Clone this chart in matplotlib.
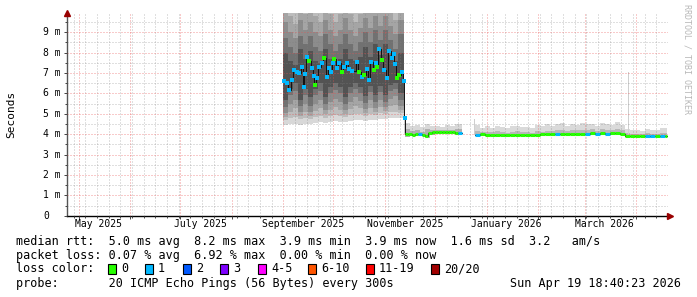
import matplotlib
matplotlib.use("Agg")
import matplotlib.pyplot as plt
import matplotlib.dates as mdates
from matplotlib.patches import Rectangle
from matplotlib.transforms import blended_transform_factory
from datetime import datetime
import numpy as np

plt.rcParams["lines.scale_dashes"] = False

# ----------------------------------------------------------------------
# data (times are days counted from 1 Sep 2025, values in ms)
# ----------------------------------------------------------------------
DAY0 = datetime(2025, 9, 1)
x_start = datetime(2025, 4, 24)
x_end = datetime(2026, 4, 20)

# segment 1: Sep - mid Nov 2025, median rtt and lost pings per sample
seg1_days = [0, 1.5, 2.7, 4.5, 5.7, 7.5, 8.7, 10.5, 11.7, 12.3, 13.5, 14.7, 16.5, 17.7,
             18.3, 19.5, 20.7, 22.5, 23.7, 25.6, 26.8, 28, 29.2, 29.8, 31.6, 32.8, 34.6,
             35.8, 37.3, 38.8, 40.6, 43.6, 44.8, 46.6, 47.8, 49.6, 50.8, 52, 53.8, 55,
             55.6, 56.8, 58.6, 59.8, 61.6, 62.8, 64.6, 65.8, 66.4, 67.6, 68.9, 70.7, 71.9, 72.5]
seg1_median = [6.6, 6.5, 6.17, 6.66, 7.15, 7.07, 7.02, 7.28, 6.33, 6.94, 7.77, 7.57, 7.23, 6.85,
               6.41, 6.76, 7.31, 7.5, 7.72, 6.79, 7.23, 7.07, 7.5, 7.67, 7.23, 7.48, 7.07,
               7.31, 7.48, 7.18, 7.12, 7.56, 7.07, 6.82, 6.9, 7.18, 6.66, 7.56, 7.15, 7.48,
               7.28, 8.18, 7.64, 7.15, 6.74, 8.1, 7.72, 7.93, 7.44, 6.74, 6.89, 7.07, 6.62, 4.8]
seg1_loss = [1, 1, 1, 1, 1, 1, 1, 1, 1, 1, 1, 0, 1, 1,
             0, 1, 1, 1, 0, 1, 1, 1, 1, 0, 1, 1, 0,
             1, 1, 1, 1, 1, 0, 1, 0, 1, 1, 1, 0, 1,
             0, 1, 0, 1, 1, 1, 1, 1, 1, 0, 0, 1, 1, 1]

# segment 1 smoke, per 3-day chunk, outer band (b1) -> inner band (b6)
seg1_chunks = [0, 3, 6, 9, 12, 15, 18, 21, 24, 27, 30, 33, 36, 39, 42, 45, 48, 51, 54, 57,
               60, 63, 66, 69, 72.5]
s1_b1_lo = [4.45, 4.5, 4.5, 4.45, 4.5, 4.5, 4.55, 4.6, 4.55, 4.6, 4.65, 4.6, 4.6, 4.65, 4.7,
            4.7, 4.65, 4.7, 4.7, 4.75, 4.75, 4.8, 4.8, 4.8]
s1_b2_lo = [4.7, 4.8, 4.85, 4.75, 4.8, 4.75, 4.85, 4.9, 4.8, 4.9, 4.95, 4.9, 4.85, 4.95, 5.0,
            5.0, 4.9, 5.0, 4.95, 5.05, 5.0, 5.1, 5.1, 5.05]
s1_b3_lo = [4.85, 5.1, 5.3, 4.9, 5.1, 4.9, 5.15, 5.3, 5.0, 5.2, 5.35, 5.2, 5.0, 5.25, 5.4,
            5.3, 5.05, 5.3, 5.1, 5.35, 5.15, 5.4, 5.45, 5.2]
s1_b3_hi = [10.4, 9.8, 9.4, 10.5, 9.9, 10.3, 9.8, 9.5, 10.5, 9.9, 9.5, 9.9, 10.5, 9.9, 9.5,
            9.9, 10.5, 10.0, 10.6, 10.0, 10.6, 10.0, 9.6, 10.4]
s1_b4_lo = [5.05, 5.5, 5.7, 5.1, 5.5, 5.1, 5.5, 5.7, 5.2, 5.6, 5.75, 5.6, 5.2, 5.6, 5.8,
            5.65, 5.25, 5.7, 5.3, 5.7, 5.35, 5.75, 5.85, 5.4]
s1_b4_hi = [9.5, 9.0, 8.7, 9.6, 9.1, 9.5, 9.0, 8.8, 9.6, 9.1, 8.8, 9.1, 9.7, 9.1, 8.8,
            9.2, 9.7, 9.2, 9.8, 9.3, 9.8, 9.3, 8.9, 9.6]
s1_b5_lo = [5.35, 5.9, 6.1, 5.4, 5.9, 5.4, 5.9, 6.1, 5.5, 6.0, 6.15, 6.0, 5.5, 6.0, 6.2,
            6.0, 5.55, 6.05, 5.6, 6.05, 5.6, 6.1, 6.2, 5.7]
s1_b5_hi = [8.7, 8.3, 8.0, 8.8, 8.4, 8.8, 8.3, 8.1, 8.9, 8.4, 8.1, 8.4, 8.9, 8.4, 8.1,
            8.5, 9.0, 8.5, 9.1, 8.6, 9.1, 8.6, 8.2, 8.9]
s1_b6_lo = [5.7, 6.2, 6.5, 5.7, 6.2, 5.8, 6.2, 6.5, 5.8, 6.3, 6.5, 6.3, 5.8, 6.3, 6.5,
            6.3, 5.85, 6.35, 5.9, 6.35, 5.9, 6.4, 6.5, 6.0]
s1_b6_hi = [8.0, 7.6, 7.4, 8.2, 7.7, 8.1, 7.6, 7.5, 8.2, 7.7, 7.6, 7.7, 8.2, 7.7, 7.6,
            7.8, 8.3, 7.8, 8.4, 7.9, 8.4, 7.9, 7.6, 8.0]
s1_top = 11.0

# segment 2: mid Nov - mid Dec 2025
seg2_days = [73, 75, 77, 79, 81, 83, 85, 87, 89, 91, 93, 95, 97, 99, 101, 103, 105]
seg2_end = 107
seg2_median = [4.0, 3.99, 3.98, 4.0, 4.02, 3.95, 3.9, 4.05, 4.1, 4.1, 4.12, 4.1, 4.11, 4.12, 4.1, 4.08, 4.05]
seg2_loss = [0, 0, 0, 0, 1, 0, 0, 0, 0, 0, 0, 0, 0, 0, 0, 0, 1]
seg2_chunks = [73, 76, 79, 82, 85, 88, 91, 94, 97, 100, 103, 107]
s2_outer_hi = [4.55, 4.4, 4.45, 4.35, 4.5, 4.4, 4.42, 4.35, 4.45, 4.4, 4.5]
s2_inner_hi = [4.25, 4.15, 4.2, 4.12, 4.25, 4.2, 4.22, 4.2, 4.22, 4.2, 4.25]
s2_lo = [3.88, 3.9, 3.92, 3.9, 3.82, 3.98, 4.0, 4.02, 4.02, 4.0, 3.98]

# segment 3: end Dec 2025 - Apr 2026
seg3_days = [115, 118, 121, 124, 127, 130, 133, 136, 139, 142, 145, 148, 151, 154, 157, 160,
             163, 166, 169, 172, 175, 178, 181, 184, 187, 190, 193, 196, 199, 202, 205, 208,
             211, 214, 217, 220, 223, 226, 229]
seg3_end = 230.5
seg3_median = [3.98, 4.0, 3.98, 3.97, 3.96, 3.97, 3.95, 3.97, 3.96, 3.98, 3.97, 3.96, 3.98, 3.99,
               4.0, 4.0, 4.02, 4.0, 4.01, 4.03, 4.02, 4.03, 4.02, 4.04, 4.02, 4.05, 4.03, 4.05,
               4.04, 4.02, 3.93, 3.9, 3.9, 3.91, 3.9, 3.89, 3.9, 3.89, 3.91]
seg3_loss = [1, 0, 0, 0, 0, 0, 0, 0, 0, 0, 0, 0, 0, 0, 0, 0, 1, 0, 0, 0, 0, 0, 1, 0, 1, 0,
             1, 0, 0, 0, 0, 0, 0, 0, 1, 1, 0, 1, 0]
seg3_chunks = [115, 118, 121, 124, 127, 130, 133, 136, 139, 142, 145, 148, 151, 154, 157, 160,
               163, 166, 169, 172, 175, 178, 181, 184, 187, 190, 193, 196, 199, 202, 205, 208,
               211, 214, 217, 220, 223, 226, 229, 230.5]
s3_outer_hi = [4.45, 4.3, 4.38, 4.32, 4.4, 4.35, 4.28, 4.38, 4.42, 4.33, 4.35, 4.3, 4.45, 4.38,
               4.5, 4.4, 4.48, 4.55, 4.42, 4.5, 4.45, 4.55, 4.48, 4.5, 4.42, 4.55, 4.5, 4.45,
               4.58, 4.45, 4.25, 4.2, 4.22, 4.18, 4.25, 4.2, 4.22, 4.28, 4.3]
s3_inner_hi = [4.15, 4.1, 4.12, 4.1, 4.14, 4.1, 4.08, 4.12, 4.15, 4.1, 4.12, 4.08, 4.15, 4.12,
               4.18, 4.15, 4.2, 4.22, 4.18, 4.2, 4.2, 4.22, 4.2, 4.25, 4.18, 4.25, 4.2, 4.2,
               4.25, 4.2, 4.05, 4.0, 4.02, 4.0, 4.05, 4.02, 4.02, 4.05, 4.08]
s3_lo = [3.9, 3.92, 3.9, 3.88, 3.88, 3.9, 3.87, 3.9, 3.9, 3.92, 3.9, 3.9, 3.92, 3.93,
         3.94, 3.93, 3.95, 3.94, 3.95, 3.96, 3.96, 3.97, 3.96, 3.97, 3.95, 3.97, 3.96, 3.97,
         3.97, 3.95, 3.86, 3.84, 3.84, 3.85, 3.84, 3.83, 3.84, 3.83, 3.85]

# single tall smoke columns
spike_days = [72.2, 114.5, 207]
spike_lo = [4.0, 3.95, 3.95]
spike_hi = [4.85, 4.75, 7.05]

loss_colors = ["#26ff00", "#00b8ff", "#0059ff", "#7e00ff", "#ff00ff", "#ff5500", "#ff0000", "#a10000"]
loss_labels = ["0", "1", "2", "3", "4-5", "6-10", "11-19", "20/20"]

month_labels = ["May 2025", "July 2025", "September 2025", "November 2025", "January 2026", "March 2026"]
month_label_dates = [datetime(2025, 5, 13), datetime(2025, 7, 13), datetime(2025, 9, 13),
                     datetime(2025, 11, 13), datetime(2026, 1, 13), datetime(2026, 3, 13)]

# ----------------------------------------------------------------------
# figure
# ----------------------------------------------------------------------
W, H = 697, 297
MONO = "DejaVu Sans Mono"
fig = plt.figure(figsize=(W / 100, H / 100), dpi=100, facecolor="white")


def fx(px):
    return px / W


def fy(py):
    return 1 - py / H


ax = fig.add_axes([fx(67), fy(215.7), fx(668) - fx(67), fy(12.9) - fy(215.7)])
ax.set_facecolor("white")

d0 = mdates.date2num(DAY0)


def band(edges, lo, hi, color):
    # one filled band per chunk, drawn as steps
    x = np.array(edges, float) + d0
    n = len(edges) - 1
    lo = np.array(lo, float) * np.ones(n)
    hi = np.array(hi, float) * np.ones(n)
    lo = np.append(lo, lo[-1])
    hi = np.append(hi, hi[-1])
    ax.fill_between(x, lo, hi, step="post", color=color, lw=0, zorder=1)


# smoke segment 1
band(seg1_chunks, s1_b1_lo, s1_top, "#d8d8d8")
band(seg1_chunks, s1_b2_lo, s1_top, "#bdbdbd")
band(seg1_chunks, s1_b3_lo, s1_b3_hi, "#a5a5a5")
band(seg1_chunks, s1_b4_lo, s1_b4_hi, "#8c8c8c")
band(seg1_chunks, s1_b5_lo, s1_b5_hi, "#717171")
band(seg1_chunks, s1_b6_lo, s1_b6_hi, "#535353")

# smoke segments 2 and 3
band(seg2_chunks, s2_lo, s2_outer_hi, "#d8d8d8")
band(seg2_chunks, s2_lo, s2_inner_hi, "#b0b0b0")
band(seg3_chunks, s3_lo, s3_outer_hi, "#dadada")
band(seg3_chunks, s3_lo, s3_inner_hi, "#b8b8b8")
for sd, lo, hi in zip(spike_days, spike_lo, spike_hi):
    ax.fill_between([sd + d0, sd + 0.8 + d0], lo, hi, color="#cfcfcf", lw=0, zorder=1)

# median: thin dark connection line, then loss coloured pieces
d12 = np.array(seg1_days + seg2_days + [seg2_end], float) + d0
m12 = seg1_median + seg2_median + [seg2_median[-1]]
ax.step(d12, m12, where="post", color="#111111", lw=0.7, zorder=3)
d3 = np.array(seg3_days + [seg3_end], float) + d0
ax.step(d3, seg3_median + [seg3_median[-1]], where="post", color="#111111", lw=0.7, zorder=3)

for d, m, l in zip(seg1_days, seg1_median, seg1_loss):
    ax.plot(d + d0 + 0.6, m, "s", ms=2.3, mew=0, color=loss_colors[l], zorder=4)

for days, end, med, loss in [(seg2_days, seg2_end, seg2_median, seg2_loss),
                             (seg3_days, seg3_end, seg3_median, seg3_loss)]:
    ends = days[1:] + [end]
    for a, b, m, l in zip(days, ends, med, loss):
        ax.hlines(m, a + d0, b + d0, colors=loss_colors[l], lw=2.2, zorder=4)

# axes, grid (1 px on / 1 px off dots)
ax.set_xlim(mdates.date2num(x_start), mdates.date2num(x_end))
ax.set_ylim(0, 9.95)
ax.xaxis.set_major_locator(mdates.MonthLocator())
ax.xaxis.set_minor_locator(mdates.WeekdayLocator(byweekday=mdates.MO))
ax.yaxis.set_major_locator(plt.MultipleLocator(1))
ax.yaxis.set_minor_locator(plt.MultipleLocator(0.5))
ax.set_xticklabels([])
ax.set_yticklabels([])
dots = (0, (0.72, 1.44))
ax.grid(which="minor", color="#808080", alpha=0.5, lw=0.72, ls=dots)
ax.grid(which="major", color="#e95050", alpha=0.6, lw=0.72, ls=dots)
ax.set_axisbelow(False)
ax.tick_params(which="both", direction="out", color="#444444", width=0.7)
ax.tick_params(which="major", length=2.5)
ax.tick_params(which="minor", length=1.5)
for s in ["top", "right"]:
    ax.spines[s].set_visible(False)
ax.spines["left"].set_color("#555555")
ax.spines["bottom"].set_color("#000000")
ax.spines["left"].set_linewidth(1.0)
ax.spines["bottom"].set_linewidth(1.0)

# axis arrows
ax.plot([0], [1.0], marker="^", ms=4, color="#990000", transform=ax.transAxes, clip_on=False, zorder=6)
ax.plot([1.004], [0], marker=">", ms=4, color="#990000", transform=ax.transAxes, clip_on=False, zorder=6)

# tick labels
xt = blended_transform_factory(ax.transData, fig.transFigure)
for lab, dt in zip(month_labels, month_label_dates):
    ax.text(mdates.date2num(dt), fy(224), lab, transform=xt, ha="center", va="center",
            family=MONO, fontsize=7, color="#000000")
yt = blended_transform_factory(fig.transFigure, ax.transData)
for v in range(10):
    lab = "0" if v == 0 else "%d m" % v
    ax.text(fx(43), v, lab, transform=yt, ha="left", va="center", family=MONO, fontsize=7,
            color="#000000")

fig.text(fx(11), fy(114), "Seconds", rotation=90, ha="center", va="center", family=MONO,
         fontsize=8, color="#000000")
fig.text(fx(687), fy(4), "RRDTOOL / TOBI OETIKER", rotation=270, ha="center", va="top",
         family=MONO, fontsize=6, color="#b8b8b8")

# legend block
fs = 8.5
fig.text(fx(16), fy(241), "median rtt:  5.0 ms avg  8.2 ms max  3.9 ms min  3.9 ms now  1.6 ms sd  3.2   am/s",
         family=MONO, fontsize=fs, va="center", ha="left")
fig.text(fx(16), fy(255), "packet loss: 0.07 % avg  6.92 % max  0.00 % min  0.00 % now",
         family=MONO, fontsize=fs, va="center", ha="left")
fig.text(fx(16), fy(268.5), "loss color:", family=MONO, fontsize=fs, va="center", ha="left")
label_px = [121, 158, 196, 233, 271, 321, 379, 444]
for px, lab, col in zip(label_px, loss_labels, loss_colors):
    fig.patches.append(Rectangle((fx(px - 13), fy(273.5)), fx(8), fy(263.5) - fy(273.5),
                                 transform=fig.transFigure, facecolor=col, edgecolor="black",
                                 lw=0.8, figure=fig))
    fig.text(fx(px), fy(268.5), lab, family=MONO, fontsize=fs, va="center", ha="left")
fig.text(fx(16), fy(283), "probe:       20 ICMP Echo Pings (56 Bytes) every 300s",
         family=MONO, fontsize=fs, va="center", ha="left")
fig.text(fx(681), fy(283), "Sun Apr 19 18:40:23 2026", family=MONO, fontsize=fs,
         va="center", ha="right")

fig.savefig("out.png", dpi=100, facecolor="white")
